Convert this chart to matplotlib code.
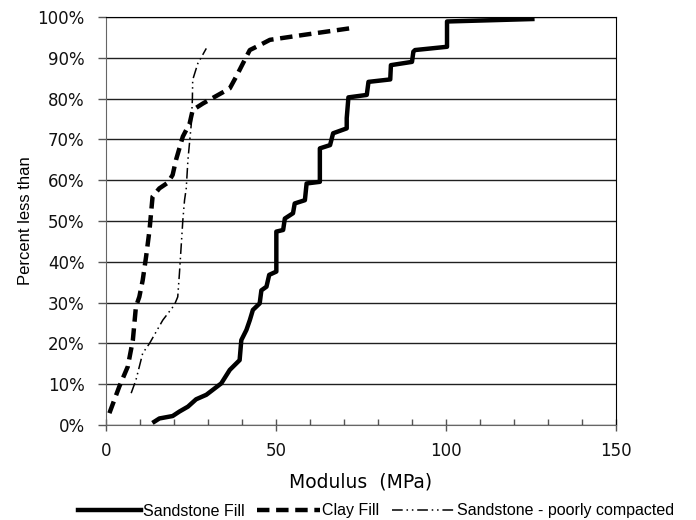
import matplotlib
matplotlib.use("Agg")
import matplotlib.pyplot as plt
from matplotlib.ticker import MultipleLocator, PercentFormatter

plt.rcParams['font.family'] = ['Liberation Sans', 'DejaVu Sans']

# Sandstone Fill (MPa, percent)
sand_x = [14.2, 15.7, 19.6, 21.6, 24.1, 26.5, 29.5, 33.9, 36.4, 39.3, 39.8, 41.3, 42.3, 43.2,
          45.2, 45.7, 47.2, 48.0, 50.1, 50.1, 52.1, 52.6, 55.0, 55.5, 58.5, 59.0, 62.9, 62.9,
          65.9, 66.8, 70.8, 70.8, 71.3, 76.7, 77.2, 83.6, 83.8, 90.0, 90.4, 90.9, 100.3, 100.3, 125.4]
sand_y = [0.8, 1.6, 2.2, 3.3, 4.5, 6.3, 7.4, 10.2, 13.5, 15.9, 20.8, 23.3, 25.7, 28.2,
          29.8, 33.0, 33.9, 36.8, 37.6, 47.4, 47.8, 50.6, 51.9, 54.3, 55.1, 59.2, 59.6, 67.8,
          68.6, 71.5, 72.7, 75.2, 80.3, 80.9, 84.1, 84.7, 88.2, 89.0, 91.5, 91.9, 92.7, 98.9, 99.5]

# Clay Fill
clay_x = [1.0, 3.9, 6.4, 7.9, 8.8, 9.8, 10.8, 11.8, 12.8, 13.7, 15.7, 18.2, 19.6, 20.6, 22.6,
          24.6, 25.5, 28.5, 36.4, 38.3, 41.3, 42.3, 45.2, 48.2, 58.0, 71.5]
clay_y = [2.9, 9.4, 14.3, 20.8, 29.0, 31.4, 35.5, 41.3, 47.8, 56.0, 58.0, 59.4, 61.3, 65.0, 70.7,
          73.9, 77.2, 78.8, 82.5, 85.4, 90.3, 91.9, 93.1, 94.4, 95.6, 97.2]

# Sandstone - poorly compacted
poor_x = [7.4, 8.8, 10.8, 12.8, 16.7, 20.1, 21.1, 21.6, 22.1, 22.6, 23.1, 23.6, 24.1, 25.1,
          25.4, 25.5, 27.0, 29.5]
poor_y = [7.8, 11.0, 17.6, 20.0, 25.7, 29.4, 31.4, 37.2, 43.7, 50.2, 55.1, 58.0, 65.0, 73.9,
          79.7, 84.6, 88.6, 92.3]

fig = plt.figure(figsize=(6.96, 5.2), dpi=100)
ax = fig.add_axes([106/696, 1 - 425/520, 510/696, 408/520])

ax.plot(sand_x, sand_y, color='black', lw=3.2, solid_joinstyle='round', label='Sandstone Fill')
ax.plot(clay_x, clay_y, color='black', lw=3.2, dashes=(2.8, 1.5), label='Clay Fill')
ax.plot(poor_x, poor_y, color='black', lw=1.1, dashes=(7, 2.5, 1, 2.5, 1, 2.5),
        label='Sandstone - poorly compacted')

ax.set_xlim(0, 150)
ax.set_ylim(0, 100)
ax.xaxis.set_major_locator(MultipleLocator(50))
ax.xaxis.set_minor_locator(MultipleLocator(10))
ax.yaxis.set_major_locator(MultipleLocator(10))
ax.yaxis.set_major_formatter(PercentFormatter(decimals=0))
ax.grid(axis='y', color='#202020', lw=1.0)
ax.set_axisbelow(True)
ax.tick_params(axis='x', which='major', direction='inout', length=8, width=1, color='#555555', pad=8)
ax.tick_params(axis='x', which='minor', direction='in', length=4, width=1, color='#555555')
ax.tick_params(axis='y', which='major', direction='out', length=6, width=1, color='#555555', pad=9.4)
for lab in ax.get_xticklabels() + ax.get_yticklabels():
    lab.set_fontfamily('DejaVu Sans')
    lab.set_fontsize(12)
    lab.set_color('#111111')
for s in ['left', 'bottom']:
    ax.spines[s].set_color('#666666')
for s in ['right', 'top']:
    ax.spines[s].set_color('black')
ax.set_xlabel('Modulus  (MPa)', fontsize=13.5, family='DejaVu Sans', labelpad=9)
ax.set_ylabel('Percent less than', fontsize=12, labelpad=3)

fig.legend(*ax.get_legend_handles_labels(), loc='center', bbox_to_anchor=(376/696, 1 - 511/520),
           ncol=3, frameon=False, fontsize=11.5, handlelength=3.9, handletextpad=0.15,
           columnspacing=0.8, borderpad=0, borderaxespad=0)

fig.savefig('out.png', dpi=100)
